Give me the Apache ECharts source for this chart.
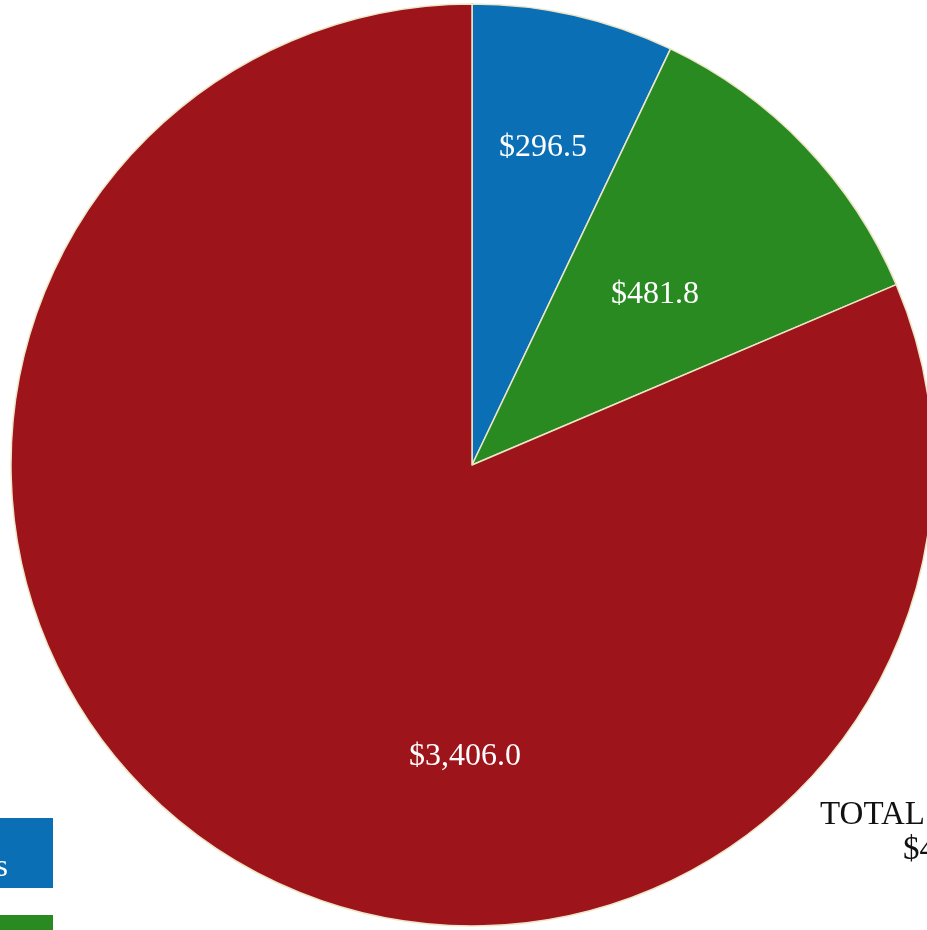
<!DOCTYPE html>
<html>
<head>
<meta charset="utf-8">
<script src="https://cdn.jsdelivr.net/npm/echarts@6/dist/echarts.min.js"></script>
<style>
  html, body { margin: 0; padding: 0; background: #fff; }
  #chart { width: 927px; height: 930px; }
</style>
</head>
<body>
<div id="chart"></div>
<script>
// 数据
var categories = ['Blue', 'Green', 'Red'];
var values = [296.5, 481.8, 3406.0];
var colors = ['#0b6fb6', '#2a8a22', '#9e141b'];
// 标签位置（像素）
var labelPos = [[543, 148], [655, 295], [465, 757]];

function fmt(v) {
  return '$' + v.toLocaleString('en-US', { minimumFractionDigits: 1, maximumFractionDigits: 1 });
}

var total = values.reduce(function(a, b) { return a + b; }, 0);
var serif = '"Liberation Serif", "DejaVu Serif", serif';

var chart = echarts.init(document.getElementById('chart'), null, { renderer: 'canvas' });

var graphics = values.map(function(v, i) {
  return {
    type: 'text',
    x: labelPos[i][0],
    y: labelPos[i][1],
    style: {
      text: fmt(v),
      fill: '#fff',
      font: '32px ' + serif,
      textAlign: 'center',
      textVerticalAlign: 'middle'
    },
    z: 10
  };
});

// 图例色块
graphics.push(
  { type: 'rect', shape: { x: 0, y: 818, width: 53, height: 70 }, style: { fill: colors[0] } },
  { type: 'text', x: 8, y: 868, style: { text: 's', fill: '#fff', font: '32px ' + serif, textAlign: 'right', textVerticalAlign: 'middle' } },
  { type: 'rect', shape: { x: 0, y: 915, width: 53, height: 30 }, style: { fill: colors[1] } },
  // 总计
  { type: 'text', x: 820, y: 815, style: { text: 'TOTAL', fill: '#111', font: '33px ' + serif, textAlign: 'left', textVerticalAlign: 'middle' } },
  { type: 'text', x: 903, y: 850, style: { text: fmt(total), fill: '#111', font: '33px ' + serif, textAlign: 'left', textVerticalAlign: 'middle' } }
);

var option = {
  animation: false,
  backgroundColor: '#fff',
  graphic: graphics,
  series: [{
    type: 'pie',
    center: [472, 465],
    radius: 461,
    startAngle: 90,
    clockwise: true,
    label: { show: false },
    labelLine: { show: false },
    emphasis: { disabled: true },
    itemStyle: { borderColor: '#ece6c8', borderWidth: 1.5 },
    data: categories.map(function(c, i) {
      return { name: c, value: values[i], itemStyle: { color: colors[i] } };
    })
  }]
};

chart.setOption(option);
</script>
</body>
</html>
